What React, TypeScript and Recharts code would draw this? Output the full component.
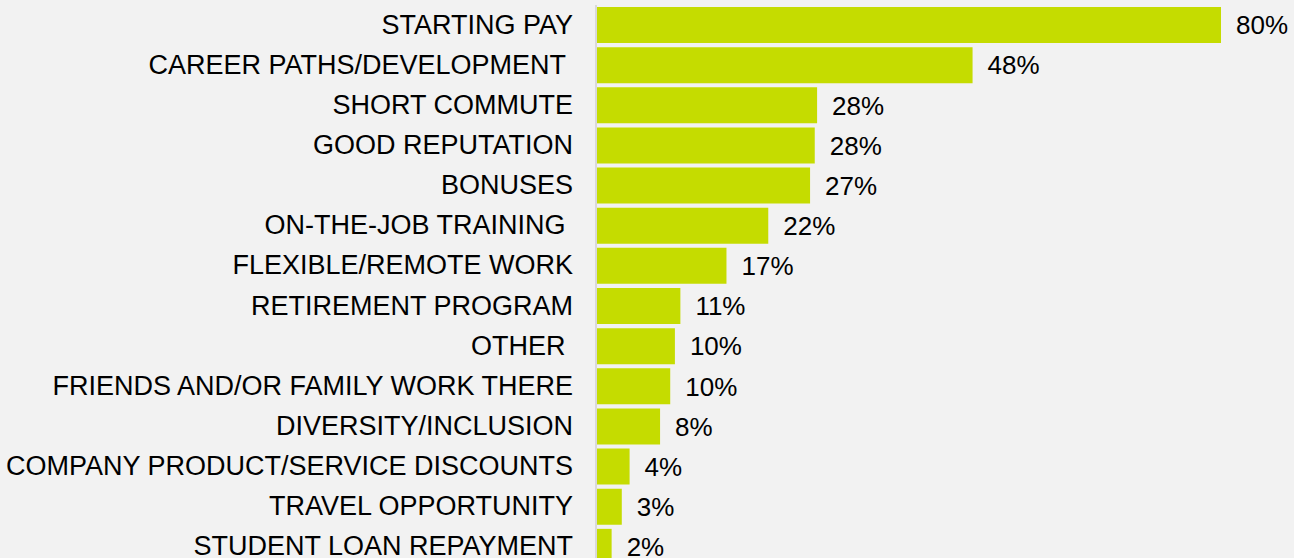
import {BarChart, Bar, XAxis, YAxis, LabelList} from 'recharts';

const categories = [
    'STARTING PAY',
    'CAREER PATHS/DEVELOPMENT ',
    'SHORT COMMUTE',
    'GOOD REPUTATION',
    'BONUSES',
    'ON-THE-JOB TRAINING ',
    'FLEXIBLE/REMOTE WORK',
    'RETIREMENT PROGRAM',
    'OTHER ',
    'FRIENDS AND/OR FAMILY WORK THERE',
    'DIVERSITY/INCLUSION',
    'COMPANY PRODUCT/SERVICE DISCOUNTS',
    'TRAVEL OPPORTUNITY',
    'STUDENT LOAN REPAYMENT',
];

// bar lengths (labels show them rounded)
const shares = [80, 48.2, 28.3, 28.0, 27.4, 22.05, 16.7, 10.8, 10.1, 9.5, 8.2, 4.3, 3.3, 2.0];

const data = categories.map((name, i) => ({name, value: shares[i]}));

const FONT = "Arial, 'Liberation Sans', sans-serif";

// keep trailing spaces in the labels, like the original
const CategoryTick = (props: any) => {
    const {x, y, payload} = props;
    return (
        <text
            x={x}
            y={y - 0.5}
            textAnchor="end"
            dominantBaseline="central"
            fontSize={27}
            fontFamily={FONT}
            fill="#000"
            style={{whiteSpace: 'pre'}}
        >
            {payload.value}
        </text>
    );
};

export default function App() {
    return (
        <div
            style={{
                position: 'fixed',
                left: 0,
                top: 0,
                width: 1294,
                height: 558,
                overflow: 'hidden',
                background: '#f2f2f2',
            }}
        >
            <BarChart
                width={1294}
                height={567}
                data={data}
                layout="vertical"
                margin={{top: 5, right: 73, bottom: 0, left: 0}}
                barSize={36}
            >
                <XAxis type="number" domain={[0, 80]} hide/>
                <YAxis
                    type="category"
                    dataKey="name"
                    width={596}
                    interval={0}
                    tickLine={false}
                    tickSize={0}
                    tickMargin={23}
                    axisLine={{stroke: '#d9d9d9', strokeWidth: 2}}
                    tick={<CategoryTick/>}
                />
                <Bar dataKey="value" fill="#c5dc00" isAnimationActive={false}>
                    <LabelList
                        dataKey="value"
                        position="right"
                        offset={15}
                        formatter={(v: any) => `${Math.round(v)}%`}
                        style={{fontSize: 26, fontFamily: FONT, fill: '#000'}}
                    />
                </Bar>
            </BarChart>
        </div>
    );
}
